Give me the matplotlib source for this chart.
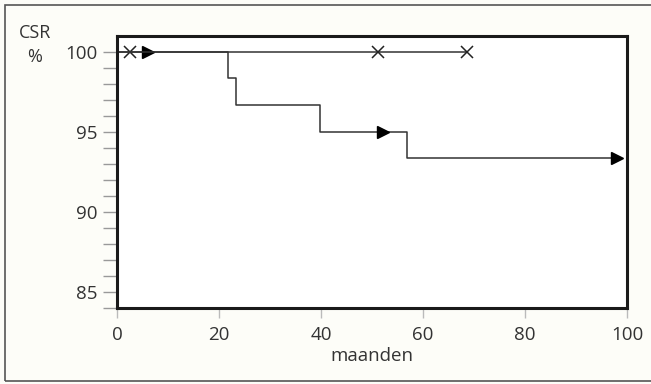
import matplotlib.pyplot as plt
from matplotlib.patches import Rectangle

plt.rcParams['font.family'] = ['Open Sans', 'DejaVu Sans']

# upper curve (no events), censored at x-marks and a triangle
upper_x = [0, 68.6]
upper_y = [100, 100]
upper_cross_x = [2.5, 51.2, 68.6]
upper_tri_x = [6.1]

# lower curve: step survival
lower_t = [0, 21.8, 23.3, 39.8, 56.8, 98]
lower_s = [100, 98.33, 96.67, 95.0, 93.33, 93.33]
lower_tri_x = [52.2, 98]
lower_tri_y = [95.0, 93.33]

fig = plt.figure(figsize=(6.51, 3.84), dpi=100)
fig.patch.set_facecolor('#fdfdf8')
fig.patches.append(Rectangle((5 / 651, 3 / 384), 700 / 651, 376 / 384,
                             transform=fig.transFigure, fill=False,
                             edgecolor='#555555', lw=1.2))

ax = fig.add_axes([117 / 651, 1 - 308 / 384, 510 / 651, 272.5 / 384])
ax.set_facecolor('white')

ax.plot(upper_x, upper_y, color='#333333', lw=1.1)
ax.plot(upper_cross_x, [100] * len(upper_cross_x), 'x', color='#222222',
        ms=9, mew=1.1)
ax.plot(upper_tri_x, [100], '>', color='black', ms=9)

ax.plot(lower_t, lower_s, drawstyle='steps-post', color='#333333', lw=1.1)
ax.plot(lower_tri_x, lower_tri_y, '>', color='black', ms=9)

ax.set_xlim(0, 100)
ax.set_ylim(84, 101)
ax.set_xticks([0, 20, 40, 60, 80, 100])
ax.set_yticks([85, 90, 95, 100])
ax.set_yticks(range(84, 101), minor=True)

for s in ax.spines.values():
    s.set_linewidth(2.2)
    s.set_color('#1a1a1a')

ax.tick_params(axis='y', which='both', length=10, width=1, color='#999999',
               labelsize=13.5, labelcolor='#333333', pad=4)
ax.tick_params(axis='x', length=7, width=1, color='#bbbbbb',
               labelsize=13.5, labelcolor='#333333', pad=6)

ax.set_xlabel('maanden', fontsize=13.5, color='#333333', labelpad=2)
fig.text(35 / 651, 1 - 33 / 384, 'CSR', fontsize=13, color='#333333',
         ha='center', va='center')
fig.text(35 / 651, 1 - 57 / 384, '%', fontsize=13, color='#333333',
         ha='center', va='center')

fig.savefig('out.png', dpi=100, facecolor=fig.get_facecolor())
